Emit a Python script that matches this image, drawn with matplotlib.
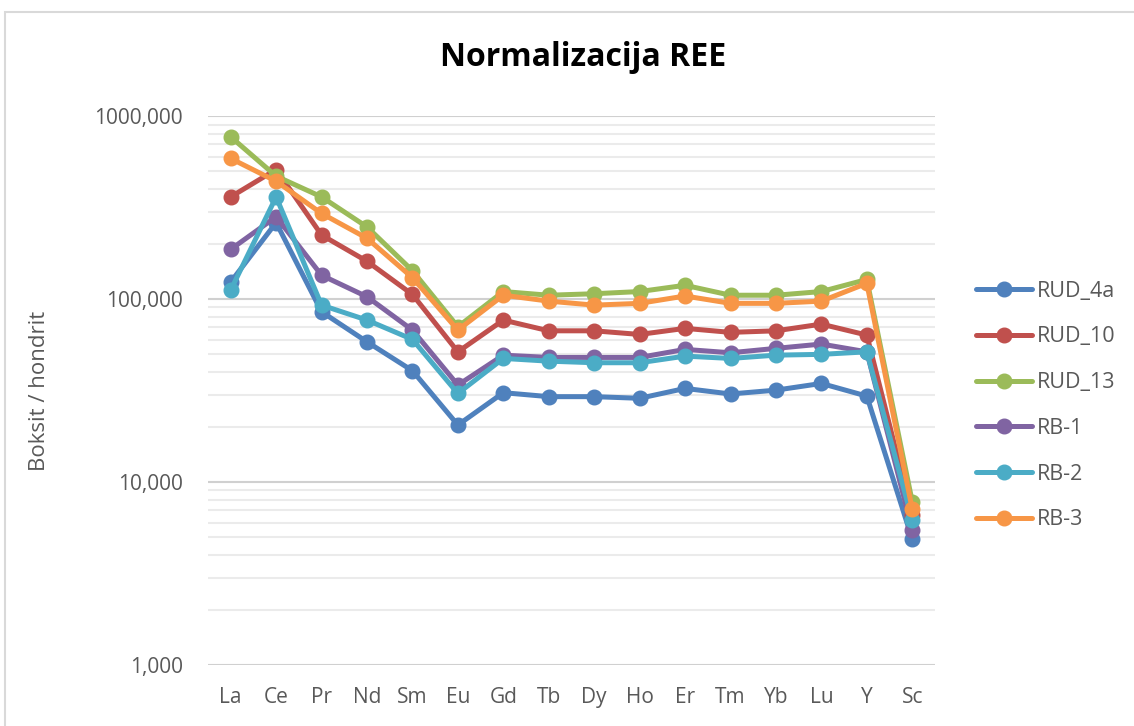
import matplotlib
matplotlib.use('Agg')
import matplotlib.pyplot as plt
from matplotlib.ticker import FixedLocator, FuncFormatter, LogLocator, NullFormatter
from matplotlib.patches import Rectangle

elements = ['La', 'Ce', 'Pr', 'Nd', 'Sm', 'Eu', 'Gd', 'Tb', 'Dy', 'Ho', 'Er', 'Tm', 'Yb', 'Lu', 'Y', 'Sc']

rud_4a = [124, 262, 85.3, 58.4, 40.6, 20.5, 30.8, 29.3, 29.3, 28.7, 32.5, 30.3, 31.8, 34.6, 29.5, 4.86]
rud_10 = [362, 511, 224, 161, 106, 51.5, 76.8, 67.1, 67.1, 64.1, 69.2, 65.8, 67.1, 73.0, 63.6, 6.6]
rud_13 = [771, 470, 362, 248, 143, 70.6, 110, 105, 107, 110, 119, 105, 105, 110, 128, 7.8]
rb_1 = [187, 282, 135, 103, 67.7, 33.9, 49.4, 48.0, 48.0, 48.0, 53.1, 50.9, 53.8, 56.8, 51.5, 5.47]
rb_2 = [112, 362, 92.7, 76.8, 60.2, 30.5, 47.4, 45.8, 44.9, 44.9, 48.8, 47.4, 49.4, 49.9, 51.5, 6.2]
rb_3 = [587, 441, 294, 215, 131, 67.7, 105, 97.5, 92.7, 94.8, 104, 94.8, 94.8, 97.5, 122, 7.1]

series = [
    ('RUD_4a', rud_4a, '#4F81BD'),
    ('RUD_10', rud_10, '#C0504D'),
    ('RUD_13', rud_13, '#9BBB59'),
    ('RB-1', rb_1, '#8064A2'),
    ('RB-2', rb_2, '#4BACC6'),
    ('RB-3', rb_3, '#F79646'),
]

plt.rcParams['font.family'] = ['Open Sans', 'DejaVu Sans']

fig = plt.figure(figsize=(11.34, 7.26), dpi=100)
ax = fig.add_axes([0.1834, 0.084, 0.6411, 0.756])

# outer chart frame
fig.patches.append(Rectangle((5 / 1134, -0.01), 1.2, 1 - 12 / 726 + 0.01,
                             transform=fig.transFigure, fill=False,
                             edgecolor='#D9D9D9', linewidth=1.5, zorder=0))

x = list(range(len(elements)))
lines = []
for name, vals, col in series:
    ln, = ax.plot(x, vals, color=col, linewidth=3.6, marker='o', markersize=10.5,
                  label=name, solid_capstyle='round', zorder=3)
    lines.append(ln)

ax.set_yscale('log')
ax.set_ylim(1, 1000)
ax.set_xlim(-0.5, len(elements) - 0.5)
ax.set_xticks(x)
ax.set_xticklabels(elements)
ax.yaxis.set_major_locator(FixedLocator([1, 10, 100, 1000]))
ax.yaxis.set_major_formatter(FuncFormatter(lambda v, p: f'{v:.3f}'.replace('.', ',')))
ax.yaxis.set_minor_locator(LogLocator(base=10, subs=range(2, 10)))
ax.yaxis.set_minor_formatter(NullFormatter())

ax.grid(True, which='major', axis='y', color='#D0D0D0', linewidth=1.5, zorder=0)
ax.grid(True, which='minor', axis='y', color='#EBEBEB', linewidth=1.5, zorder=0)
ax.set_axisbelow(True)
for s in ax.spines.values():
    s.set_visible(False)
ax.tick_params(axis='both', which='both', length=0, labelsize=15, labelcolor='#595959')
ax.tick_params(axis='y', pad=18)
ax.tick_params(axis='x', pad=16)

ax.set_ylabel('Boksit / hondrit', fontsize=16, color='#595959')
ax.yaxis.set_label_coords(-0.217, 0.5)
fig.text(583 / 1134, 1 - 57 / 726, 'Normalizacija REE',
         ha='center', va='center', fontsize=23, fontweight='bold', color='black')

fig.legend(handles=lines, loc='upper left', bbox_to_anchor=(0.853, 1 - 272 / 726),
           frameon=False, fontsize=15.5, labelcolor='#595959', handlelength=2.6,
           handletextpad=0.25, labelspacing=1.15, borderaxespad=0)

fig.savefig('out.png', dpi=100)
